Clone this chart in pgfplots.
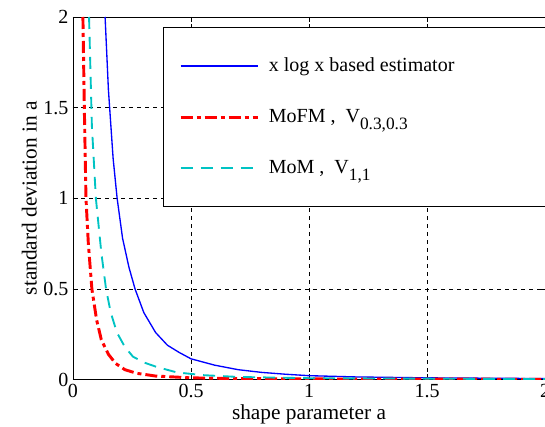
\documentclass[border=0pt]{standalone}
\usepackage{fontspec}
\setmainfont{Liberation Serif}
\usepackage{pgfplots}
\pgfplotsset{compat=1.18}
\usetikzlibrary{calc}

\definecolor{mblue}{RGB}{0,0,255}
\definecolor{mred}{RGB}{255,0,0}
\definecolor{mcyan}{RGB}{0,195,195}

\newcommand{\sub}[1]{\raisebox{-5pt}{\fontsize{13}{15}\selectfont #1}}

\begin{document}
\begin{tikzpicture}
\begin{axis}[
  scale only axis,
  width=354pt, height=272pt,
  xmin=0, xmax=2, ymin=0, ymax=2,
  xtick={0,0.5,1,1.5,2}, ytick={0,0.5,1,1.5,2},
  xticklabels={0,0.5,1,1.5,2}, yticklabels={0,0.5,1,1.5,2},
  tick align=inside, tick style={black, line width=0.5pt},
  major tick length=4pt,
  axis line style={black, line width=0.7pt},
  grid=major,
  major grid style={black, line width=0.6pt, dash pattern=on 3pt off 3pt},
  tick label style={font=\fontsize{15}{18}\selectfont},
  label style={font=\fontsize{16}{19}\selectfont},
  xlabel={shape parameter a},
  ylabel={standard deviation in a},
  xlabel style={yshift=2pt},
  ylabel style={yshift=-2pt},
  legend cell align=left,
  legend style={at={(rel axis cs:0.1907,0.9725)}, anchor=north west,
    fill=white, font=\fontsize{15}{18}\selectfont,
    inner xsep=12pt, inner ysep=21pt, row sep=23pt, column sep=5pt},
  legend image code/.code={\draw[#1] (0pt,0pt) -- (58pt,0pt);},
]
\addplot[draw=mblue, line width=1pt] coordinates {
 (0.136,2.0)(0.15,1.6)(0.17,1.22)(0.187,1.0)(0.21,0.78)(0.237,0.62)
 (0.263,0.5)(0.3,0.37)(0.35,0.26)(0.4,0.19)(0.45,0.15)(0.5,0.115)
 (0.6,0.08)(0.7,0.055)(0.8,0.04)(0.9,0.03)(1.0,0.022)(1.2,0.015)
 (1.5,0.01)(2.0,0.006)};
\addlegendentry{x log x based estimator\hspace*{70pt}}
\addplot[draw=mred, line width=2.2pt, dash pattern=on 9pt off 3pt on 3pt off 3pt] coordinates {
 (0.042,2.0)(0.048,1.5)(0.055,1.0)(0.065,0.75)(0.08,0.5)(0.1,0.33)
 (0.12,0.22)(0.15,0.14)(0.18,0.09)(0.22,0.055)(0.27,0.035)(0.35,0.02)
 (0.5,0.01)(0.7,0.006)(1.0,0.004)(2.0,0.002)};
\addlegendentry{MoFM ,\ \ V\sub{0.3,0.3}}
\addplot[draw=mcyan, line width=1.4pt, dash pattern=on 9pt off 6pt] coordinates {
 (0.068,2.0)(0.08,1.4)(0.097,1.0)(0.12,0.7)(0.14,0.5)(0.16,0.37)
 (0.186,0.26)(0.22,0.18)(0.254,0.127)(0.3,0.095)(0.355,0.07)(0.44,0.04)
 (0.55,0.025)(0.7,0.015)(1.0,0.008)(2.0,0.003)};
\addlegendentry{MoM ,\ \ V\sub{1,1}\rule[-10pt]{0pt}{1pt}}
\end{axis}
\pgfresetboundingbox
\path ($(current axis.south west)+(-54.75pt,-35.25pt)$) rectangle ($(current axis.north east)+(0pt,12.75pt)$);
\end{tikzpicture}
\end{document}
